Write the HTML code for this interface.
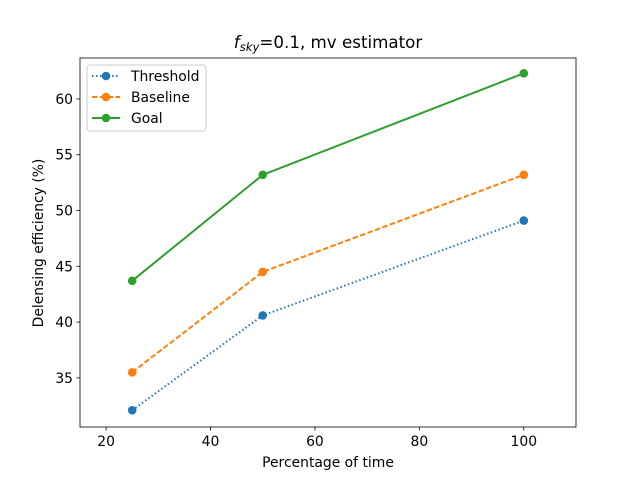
<!DOCTYPE html>
<html><head><meta charset="utf-8"><style>
body{margin:0;background:#fff;}
svg{font-family:"DejaVu Sans","Liberation Sans",sans-serif;}
</style></head><body>
<svg id="chart" width="640" height="480" xmlns="http://www.w3.org/2000/svg">
<rect width="640" height="480" fill="#fff"/>
<g id="plot"></g>
</svg>
<script>
const xValues=[25,50,100];
const thresholdValues=[32.1,40.6,49.1];
const baselineValues=[35.5,44.5,53.2];
const goalValues=[43.7,53.2,62.3];
const xTicks=[20,40,60,80,100];
const yTicks=[35,40,45,50,55,60];
const seriesNames=["Threshold","Baseline","Goal"];

const L=80,R=576,T=58,B=427;
const xmin=15,xmax=110,ymin=30.6,ymax=63.67;
const sx=v=>L+(v-xmin)/(xmax-xmin)*(R-L);
const sy=v=>B-(v-ymin)/(ymax-ymin)*(B-T);
const NS="http://www.w3.org/2000/svg";
const g=document.getElementById('plot');
function mk(t,a,p){const e=document.createElementNS(NS,t);for(const k in a)e.setAttribute(k,a[k]);(p||g).appendChild(e);return e;}

xTicks.forEach(v=>{
  const x=sx(v);
  const t=mk('line',{x1:x,x2:x,y1:B,y2:B+3.5,stroke:'#000','stroke-width':0.8});
  
  
  const l=mk('text',{x:x,y:B+19,'font-size':13.9,'text-anchor':'middle',fill:'#000'});
  l.textContent=v;
  
  
});
yTicks.forEach(v=>{
  const y=sy(v);
  const t=mk('line',{x1:L-3.5,x2:L,y1:y,y2:y,stroke:'#000','stroke-width':0.8});
  
  
  const l=mk('text',{x:L-7,y:y+5,'font-size':13.9,'text-anchor':'end',fill:'#000'});
  l.textContent=v;
  
  
});

const series=[
  {vals:thresholdValues,color:'#1f77b4',dash:'1.5,2.5'},
  {vals:baselineValues,color:'#ff7f0e',dash:'5.5,2.4'},
  {vals:goalValues,color:'#2ca02c',dash:''}
];
series.forEach((s,i)=>{
  const pts=s.vals.map((v,j)=>sx(xValues[j])+','+sy(v)).join(' ');
  const pl=mk('polyline',{points:pts,fill:'none',stroke:s.color,'stroke-width':2,'stroke-dasharray':s.dash});
  
  
  s.vals.forEach((v,j)=>{
    const c=mk('circle',{cx:sx(xValues[j]),cy:sy(v),r:4.3,fill:s.color});
    
    
  });
});

const frame=mk('rect',{x:L,y:T,width:R-L,height:B-T,fill:'none',stroke:'#000','stroke-width':0.8});



const lg=mk('g',{});


mk('rect',{x:87,y:65,width:119,height:66,rx:3,fill:'#fff','fill-opacity':0.8,stroke:'#ccc','stroke-width':1},lg);
series.forEach((s,i)=>{
  const y=76+i*21;
  const e=mk('g',{},lg);
  
  
  mk('line',{x1:92,x2:120,y1:y,y2:y,stroke:s.color,'stroke-width':2,'stroke-dasharray':s.dash},e);
  mk('circle',{cx:106,cy:y,r:4.3,fill:s.color},e);
  const t=mk('text',{x:131,y:y+5,'font-size':13.9,fill:'#000'},e);
  t.textContent=seriesNames[i];
});
</script>
<svg width="640" height="480" style="position:absolute;left:0;top:0" xmlns="http://www.w3.org/2000/svg">
<text x="328" y="48" font-size="16.7" text-anchor="middle" font-family="DejaVu Sans,Liberation Sans,sans-serif"><tspan font-style="italic">f</tspan><tspan font-style="italic" font-size="11.7" dy="3">sky</tspan><tspan dy="-3">=0.1, mv estimator</tspan></text>
<text x="328" y="467" font-size="13.9" text-anchor="middle" font-family="DejaVu Sans,Liberation Sans,sans-serif">Percentage of time</text>
<text x="43" y="243" font-size="13.9" text-anchor="middle" transform="rotate(-90 43 243)" font-family="DejaVu Sans,Liberation Sans,sans-serif">Delensing efficiency (%)</text>
</svg>
</body></html>
